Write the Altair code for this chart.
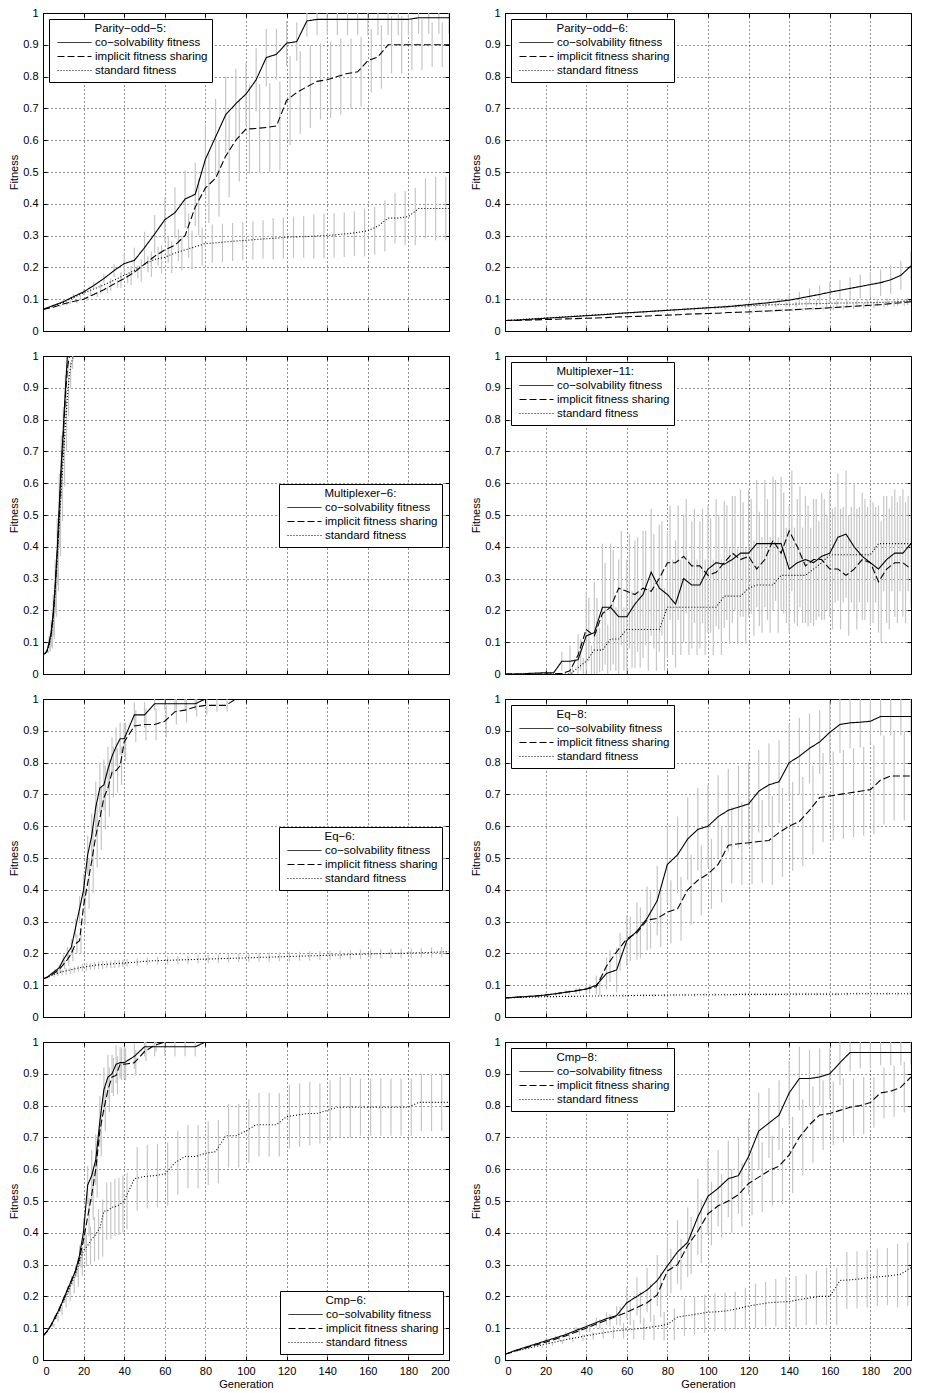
import altair as alt
import pandas as pd

# ---------------- shared categories / ticks ----------------
SERIES = ["co\u2212solvability fitness", "implicit fitness sharing", "standard fitness"]
X_TICKS = [0, 20, 40, 60, 80, 100, 120, 140, 160, 180, 200]
Y_TICKS = [0, 0.1, 0.2, 0.3, 0.4, 0.5, 0.6, 0.7, 0.8, 0.9, 1]

G5 = list(range(0, 201, 5))
G_FINE = list(range(0, 41, 2)) + list(range(45, 201, 5))

# ---------------- Parity-odd-5 ----------------
P1_TITLE = "Parity\u2212odd\u22125:"
P1_GENS = G5
P1_CO = [0.068, 0.080, 0.092, 0.108, 0.123, 0.143, 0.165, 0.190, 0.212, 0.222,
         0.262, 0.305, 0.350, 0.372, 0.415, 0.430, 0.540, 0.610, 0.680, 0.715,
         0.745, 0.790, 0.860, 0.870, 0.905, 0.910, 0.975, 0.980, 0.980, 0.980,
         0.980, 0.980, 0.980, 0.980, 0.980, 0.980, 0.980, 0.985, 0.985, 0.985, 0.985]
P1_CO_ERR = [0.003, 0.005, 0.006, 0.008, 0.010, 0.012, 0.015, 0.020, 0.030, 0.040,
             0.050, 0.060, 0.070, 0.080, 0.090, 0.100, 0.110, 0.120, 0.120, 0.110,
             0.100, 0.100, 0.090, 0.080, 0.070, 0.060, 0.050, 0.050, 0.050, 0.050,
             0.050, 0.050, 0.050, 0.050, 0.050, 0.050, 0.050, 0.050, 0.050, 0.050, 0.050]
P1_IFS = [0.068, 0.075, 0.085, 0.093, 0.100, 0.115, 0.130, 0.148, 0.165, 0.185,
          0.210, 0.235, 0.255, 0.270, 0.300, 0.390, 0.450, 0.480, 0.550, 0.600,
          0.635, 0.637, 0.640, 0.645, 0.725, 0.750, 0.768, 0.785, 0.790, 0.800,
          0.810, 0.815, 0.850, 0.862, 0.900, 0.900, 0.900, 0.900, 0.900, 0.900, 0.900]
P1_IFS_ERR = [0.002, 0.003, 0.004, 0.005, 0.006, 0.008, 0.010, 0.012, 0.015, 0.020,
              0.025, 0.030, 0.040, 0.050, 0.070, 0.090, 0.110, 0.120, 0.130, 0.130,
              0.140, 0.140, 0.140, 0.140, 0.140, 0.130, 0.130, 0.120, 0.120, 0.120,
              0.110, 0.110, 0.100, 0.100, 0.090, 0.090, 0.080, 0.080, 0.070, 0.070, 0.070]
P1_STD = [0.068, 0.078, 0.090, 0.105, 0.120, 0.132, 0.145, 0.160, 0.175, 0.190,
          0.210, 0.225, 0.232, 0.245, 0.255, 0.265, 0.275, 0.277, 0.280, 0.283,
          0.285, 0.288, 0.290, 0.292, 0.295, 0.296, 0.297, 0.299, 0.300, 0.303,
          0.306, 0.310, 0.315, 0.330, 0.355, 0.355, 0.360, 0.385, 0.385, 0.385, 0.385]
P1_STD_ERR = [0.002, 0.004, 0.006, 0.008, 0.010, 0.015, 0.020, 0.025, 0.030, 0.035,
              0.040, 0.045, 0.050, 0.055, 0.060, 0.060, 0.060, 0.060, 0.060, 0.060,
              0.060, 0.060, 0.065, 0.065, 0.065, 0.065, 0.070, 0.070, 0.070, 0.070,
              0.070, 0.075, 0.075, 0.080, 0.080, 0.085, 0.090, 0.095, 0.100, 0.100, 0.100]

# ---------------- Parity-odd-6 ----------------
P2_TITLE = "Parity\u2212odd\u22126:"
P2_GENS = G5
P2_CO = [0.033, 0.034, 0.036, 0.038, 0.040, 0.042, 0.044, 0.046, 0.048, 0.050,
         0.052, 0.055, 0.057, 0.059, 0.061, 0.063, 0.065, 0.067, 0.069, 0.071,
         0.073, 0.075, 0.077, 0.080, 0.083, 0.086, 0.089, 0.093, 0.097, 0.103,
         0.109, 0.115, 0.122, 0.128, 0.134, 0.140, 0.146, 0.152, 0.161, 0.175, 0.205]
P2_CO_ERR = [0.001, 0.001, 0.001, 0.001, 0.001, 0.001, 0.001, 0.001, 0.002, 0.002,
             0.002, 0.002, 0.002, 0.003, 0.003, 0.003, 0.003, 0.003, 0.004, 0.004,
             0.004, 0.004, 0.005, 0.005, 0.006, 0.007, 0.008, 0.010, 0.015, 0.020,
             0.025, 0.028, 0.030, 0.032, 0.035, 0.038, 0.040, 0.042, 0.045, 0.045, 0.045]
P2_IFS = [0.033, 0.033, 0.034, 0.035, 0.036, 0.037, 0.038, 0.039, 0.040, 0.041,
          0.042, 0.044, 0.045, 0.046, 0.047, 0.049, 0.050, 0.051, 0.053, 0.054,
          0.055, 0.056, 0.058, 0.059, 0.060, 0.062, 0.063, 0.065, 0.066, 0.068,
          0.070, 0.071, 0.073, 0.075, 0.077, 0.079, 0.081, 0.083, 0.086, 0.089, 0.092]
P2_IFS_ERR = [0.001, 0.001, 0.001, 0.001, 0.001, 0.001, 0.001, 0.001, 0.001, 0.001,
              0.002, 0.002, 0.002, 0.002, 0.002, 0.002, 0.002, 0.002, 0.002, 0.003,
              0.003, 0.003, 0.003, 0.003, 0.004, 0.004, 0.004, 0.005, 0.005, 0.005,
              0.006, 0.006, 0.007, 0.007, 0.008, 0.008, 0.009, 0.009, 0.010, 0.010, 0.010]
P2_STD = [0.033, 0.035, 0.037, 0.039, 0.041, 0.043, 0.045, 0.047, 0.049, 0.051,
          0.053, 0.055, 0.057, 0.059, 0.061, 0.063, 0.065, 0.067, 0.069, 0.071,
          0.073, 0.074, 0.076, 0.078, 0.079, 0.081, 0.082, 0.083, 0.084, 0.085,
          0.086, 0.086, 0.087, 0.088, 0.088, 0.089, 0.089, 0.090, 0.091, 0.093, 0.095]
P2_STD_ERR = [0.001, 0.001, 0.001, 0.001, 0.002, 0.002, 0.002, 0.002, 0.003, 0.003,
              0.003, 0.003, 0.004, 0.004, 0.004, 0.005, 0.005, 0.005, 0.006, 0.006,
              0.006, 0.007, 0.007, 0.007, 0.008, 0.008, 0.008, 0.009, 0.009, 0.009,
              0.010, 0.010, 0.010, 0.010, 0.011, 0.011, 0.011, 0.012, 0.012, 0.012, 0.012]

# ---------------- Multiplexer-6 ----------------
P3_TITLE = "Multiplexer\u22126:"
P3_GENS = list(range(0, 17))
P3_CO = [0.060, 0.065, 0.073, 0.100, 0.130, 0.190, 0.280, 0.390, 0.530, 0.660,
         0.770, 0.890, 1.000]
P3_CO_ERR = [0.0, 0.003, 0.005, 0.020, 0.040, 0.060, 0.080, 0.100, 0.100, 0.090,
             0.070, 0.050, 0.0]
P3_IFS = [0.060, 0.065, 0.072, 0.095, 0.125, 0.180, 0.270, 0.380, 0.500, 0.640,
          0.750, 0.870, 0.960, 1.000]
P3_IFS_ERR = [0.0, 0.003, 0.005, 0.020, 0.040, 0.060, 0.080, 0.100, 0.100, 0.090,
              0.080, 0.060, 0.030, 0.0]
P3_STD = [0.060, 0.065, 0.070, 0.090, 0.120, 0.170, 0.260, 0.360, 0.470, 0.580,
          0.680, 0.780, 0.870, 0.940, 0.980, 1.000]
P3_STD_ERR = [0.0, 0.003, 0.005, 0.020, 0.040, 0.060, 0.080, 0.100, 0.100, 0.100,
              0.090, 0.080, 0.060, 0.040, 0.020, 0.0]

# ---------------- Multiplexer-11 ----------------
P4_TITLE = "Multiplexer\u221211:"
P4_GENS = list(range(0, 201, 4))
P4_CO = [0.000, 0.000, 0.000, 0.002, 0.003, 0.004, 0.004, 0.040, 0.040, 0.045,
         0.120, 0.130, 0.210, 0.210, 0.180, 0.180, 0.220, 0.250, 0.320, 0.270,
         0.250, 0.220, 0.300, 0.280, 0.280, 0.330, 0.350, 0.345, 0.360, 0.380,
         0.380, 0.410, 0.410, 0.410, 0.410, 0.330, 0.350, 0.360, 0.350, 0.370,
         0.380, 0.430, 0.440, 0.400, 0.370, 0.350, 0.330, 0.360, 0.380, 0.380, 0.410]
P4_CO_ERR = [0.0, 0.0, 0.0, 0.002, 0.003, 0.004, 0.004, 0.030, 0.050, 0.080,
             0.140, 0.160, 0.200, 0.200, 0.180, 0.180, 0.200, 0.200, 0.200, 0.200,
             0.200, 0.200, 0.200, 0.200, 0.200, 0.200, 0.200, 0.200, 0.200, 0.200,
             0.200, 0.200, 0.200, 0.210, 0.210, 0.200, 0.200, 0.200, 0.200, 0.200,
             0.200, 0.200, 0.200, 0.200, 0.200, 0.200, 0.200, 0.200, 0.200, 0.200, 0.200]
P4_IFS = [0.000, 0.000, 0.000, 0.000, 0.000, 0.000, 0.000, 0.002, 0.010, 0.060,
          0.140, 0.120, 0.190, 0.210, 0.270, 0.260, 0.250, 0.270, 0.260, 0.300,
          0.350, 0.350, 0.370, 0.340, 0.340, 0.310, 0.320, 0.350, 0.380, 0.360,
          0.370, 0.330, 0.360, 0.420, 0.380, 0.450, 0.400, 0.340, 0.360, 0.360,
          0.330, 0.330, 0.310, 0.330, 0.360, 0.350, 0.290, 0.330, 0.350, 0.350, 0.330]
P4_IFS_ERR = [0.0, 0.0, 0.0, 0.0, 0.0, 0.0, 0.0, 0.002, 0.010, 0.050,
              0.100, 0.120, 0.160, 0.180, 0.180, 0.180, 0.180, 0.180, 0.180, 0.180,
              0.180, 0.180, 0.180, 0.180, 0.180, 0.180, 0.180, 0.180, 0.180, 0.180,
              0.180, 0.180, 0.190, 0.190, 0.190, 0.190, 0.190, 0.190, 0.190, 0.190,
              0.190, 0.190, 0.190, 0.190, 0.190, 0.190, 0.190, 0.190, 0.190, 0.190, 0.190]
P4_STD = [0.000, 0.000, 0.000, 0.000, 0.000, 0.000, 0.000, 0.000, 0.000, 0.020,
          0.040, 0.075, 0.075, 0.110, 0.110, 0.140, 0.140, 0.140, 0.140, 0.140,
          0.210, 0.210, 0.210, 0.210, 0.210, 0.210, 0.210, 0.245, 0.245, 0.245,
          0.270, 0.280, 0.280, 0.280, 0.310, 0.310, 0.310, 0.310, 0.330, 0.350,
          0.375, 0.375, 0.375, 0.375, 0.375, 0.375, 0.410, 0.410, 0.410, 0.410, 0.410]
P4_STD_ERR = [0.0, 0.0, 0.0, 0.0, 0.0, 0.0, 0.0, 0.0, 0.0, 0.030,
              0.050, 0.070, 0.080, 0.100, 0.100, 0.120, 0.120, 0.130, 0.130, 0.130,
              0.150, 0.150, 0.150, 0.150, 0.150, 0.150, 0.150, 0.150, 0.150, 0.150,
              0.150, 0.150, 0.150, 0.150, 0.150, 0.150, 0.150, 0.150, 0.150, 0.150,
              0.150, 0.150, 0.150, 0.150, 0.150, 0.150, 0.150, 0.150, 0.150, 0.150, 0.150]

# ---------------- Eq-6 ----------------
P5_TITLE = "Eq\u22126:"
P5_GENS = G_FINE
P5_CO = [0.120, 0.125, 0.135, 0.145, 0.155, 0.180, 0.200, 0.220, 0.280, 0.340,
         0.400, 0.510, 0.570, 0.660, 0.720, 0.730, 0.780, 0.820, 0.850, 0.875,
         0.875, 0.950, 0.950, 0.985, 0.985, 0.985, 0.985, 0.985, 1.000]
P5_CO_ERR = [0.0, 0.002, 0.004, 0.006, 0.010, 0.015, 0.020, 0.025, 0.030, 0.040,
             0.050, 0.060, 0.070, 0.080, 0.080, 0.080, 0.070, 0.060, 0.060, 0.050,
             0.050, 0.040, 0.040, 0.020, 0.020, 0.020, 0.020, 0.020, 0.0]
P5_IFS = [0.120, 0.124, 0.132, 0.140, 0.150, 0.165, 0.180, 0.200, 0.230, 0.240,
          0.350, 0.420, 0.490, 0.570, 0.625, 0.690, 0.720, 0.770, 0.775, 0.790,
          0.865, 0.915, 0.920, 0.920, 0.930, 0.960, 0.965, 0.975, 0.980, 0.980,
          0.980, 1.000]
P5_IFS_ERR = [0.0, 0.002, 0.004, 0.006, 0.010, 0.015, 0.020, 0.025, 0.030, 0.040,
              0.060, 0.080, 0.100, 0.100, 0.100, 0.100, 0.090, 0.080, 0.070, 0.060,
              0.060, 0.050, 0.050, 0.050, 0.050, 0.040, 0.040, 0.030, 0.030, 0.020,
              0.020, 0.0]
P5_STD = [0.120, 0.125, 0.130, 0.135, 0.140, 0.143, 0.146, 0.149, 0.152, 0.155,
          0.157, 0.159, 0.161, 0.163, 0.164, 0.165, 0.166, 0.167, 0.168, 0.169,
          0.170, 0.172, 0.175, 0.177, 0.178, 0.179, 0.180, 0.181, 0.182, 0.183,
          0.184, 0.185, 0.186, 0.187, 0.188, 0.189, 0.190, 0.191, 0.192, 0.193,
          0.194, 0.195, 0.196, 0.197, 0.198, 0.199, 0.200, 0.200, 0.201, 0.202,
          0.203, 0.204, 0.206]
P5_STD_ERR = [0.0, 0.002, 0.004, 0.006, 0.008, 0.010, 0.010, 0.010, 0.010, 0.012,
              0.012, 0.012, 0.012, 0.012, 0.012, 0.012, 0.012, 0.012, 0.012, 0.012,
              0.012, 0.012, 0.012, 0.012, 0.012, 0.013, 0.013, 0.013, 0.013, 0.013,
              0.013, 0.013, 0.013, 0.013, 0.014, 0.014, 0.014, 0.014, 0.014, 0.014,
              0.014, 0.014, 0.015, 0.015, 0.015, 0.015, 0.015, 0.015, 0.015, 0.015,
              0.016, 0.016, 0.016]

# ---------------- Eq-8 ----------------
P6_TITLE = "Eq\u22128:"
P6_GENS = G5
P6_CO = [0.060, 0.062, 0.064, 0.066, 0.069, 0.073, 0.078, 0.082, 0.088, 0.100,
         0.137, 0.148, 0.240, 0.270, 0.310, 0.366, 0.480, 0.510, 0.560, 0.590,
         0.600, 0.630, 0.650, 0.660, 0.670, 0.710, 0.730, 0.740, 0.800, 0.820,
         0.845, 0.865, 0.895, 0.920, 0.925, 0.927, 0.930, 0.945, 0.945, 0.945, 0.945]
P6_CO_ERR = [0.0, 0.002, 0.003, 0.004, 0.005, 0.006, 0.008, 0.010, 0.015, 0.030,
             0.050, 0.070, 0.080, 0.090, 0.100, 0.110, 0.120, 0.120, 0.130, 0.130,
             0.130, 0.130, 0.130, 0.130, 0.130, 0.130, 0.130, 0.130, 0.120, 0.120,
             0.110, 0.100, 0.100, 0.090, 0.080, 0.080, 0.070, 0.060, 0.060, 0.060, 0.060]
P6_IFS = [0.060, 0.062, 0.064, 0.066, 0.069, 0.073, 0.078, 0.083, 0.088, 0.095,
          0.160, 0.205, 0.246, 0.265, 0.305, 0.310, 0.330, 0.340, 0.400, 0.430,
          0.450, 0.480, 0.540, 0.545, 0.548, 0.552, 0.555, 0.580, 0.600, 0.615,
          0.650, 0.690, 0.695, 0.700, 0.705, 0.710, 0.715, 0.745, 0.758, 0.758, 0.758]
P6_IFS_ERR = [0.0, 0.002, 0.003, 0.004, 0.005, 0.006, 0.008, 0.010, 0.015, 0.030,
              0.050, 0.060, 0.070, 0.080, 0.090, 0.090, 0.100, 0.100, 0.110, 0.110,
              0.110, 0.120, 0.120, 0.130, 0.130, 0.130, 0.140, 0.140, 0.140, 0.140,
              0.140, 0.140, 0.140, 0.140, 0.140, 0.140, 0.140, 0.140, 0.140, 0.140, 0.140]
P6_STD = [0.060, 0.061, 0.062, 0.063, 0.064, 0.064, 0.065, 0.065, 0.066, 0.066,
          0.067, 0.067, 0.067, 0.068, 0.068, 0.068, 0.069, 0.069, 0.069, 0.070,
          0.070, 0.070, 0.070, 0.071, 0.071, 0.071, 0.071, 0.071, 0.072, 0.072,
          0.072, 0.072, 0.072, 0.072, 0.073, 0.073, 0.073, 0.073, 0.073, 0.073, 0.073]
P6_STD_ERR = [0.0, 0.001, 0.001, 0.002, 0.002, 0.002, 0.003, 0.003, 0.003, 0.003,
              0.004, 0.004, 0.004, 0.004, 0.004, 0.004, 0.004, 0.004, 0.005, 0.005,
              0.005, 0.005, 0.005, 0.005, 0.005, 0.005, 0.005, 0.005, 0.005, 0.005,
              0.005, 0.005, 0.005, 0.005, 0.005, 0.005, 0.005, 0.005, 0.005, 0.005, 0.005]

# ---------------- Cmp-6 ----------------
P7_TITLE = "Cmp\u22126:"
P7_GENS = G_FINE
P7_CO = [0.075, 0.090, 0.110, 0.135, 0.160, 0.190, 0.220, 0.250, 0.280, 0.330,
         0.405, 0.550, 0.580, 0.630, 0.750, 0.850, 0.890, 0.900, 0.930, 0.935,
         0.935, 0.955, 0.985, 0.985, 0.985, 0.985, 0.985, 0.985, 1.000]
P7_CO_ERR = [0.0, 0.002, 0.004, 0.006, 0.008, 0.010, 0.012, 0.015, 0.020, 0.030,
             0.040, 0.060, 0.080, 0.080, 0.080, 0.070, 0.070, 0.060, 0.060, 0.050,
             0.050, 0.040, 0.030, 0.030, 0.030, 0.030, 0.030, 0.030, 0.0]
P7_IFS = [0.075, 0.090, 0.110, 0.135, 0.160, 0.190, 0.220, 0.250, 0.280, 0.320,
          0.380, 0.450, 0.520, 0.600, 0.720, 0.790, 0.850, 0.890, 0.895, 0.930,
          0.930, 0.935, 0.970, 0.990, 1.000]
P7_IFS_ERR = [0.0, 0.002, 0.004, 0.006, 0.008, 0.010, 0.012, 0.015, 0.020, 0.030,
              0.040, 0.060, 0.080, 0.090, 0.080, 0.070, 0.070, 0.060, 0.060, 0.050,
              0.050, 0.040, 0.030, 0.020, 0.0]
P7_STD = [0.075, 0.090, 0.108, 0.130, 0.155, 0.185, 0.210, 0.240, 0.270, 0.310,
          0.345, 0.360, 0.380, 0.395, 0.415, 0.468, 0.470, 0.480, 0.483, 0.490,
          0.500, 0.570, 0.577, 0.580, 0.585, 0.620, 0.640, 0.640, 0.650, 0.655,
          0.705, 0.705, 0.720, 0.740, 0.740, 0.740, 0.765, 0.770, 0.775, 0.775,
          0.785, 0.795, 0.795, 0.795, 0.795, 0.795, 0.795, 0.795, 0.795, 0.810,
          0.810, 0.810, 0.810]
P7_STD_ERR = [0.0, 0.003, 0.006, 0.010, 0.015, 0.020, 0.025, 0.030, 0.040, 0.045,
              0.050, 0.060, 0.070, 0.080, 0.090, 0.090, 0.090, 0.090, 0.090, 0.090,
              0.090, 0.100, 0.100, 0.100, 0.100, 0.100, 0.100, 0.100, 0.100, 0.100,
              0.100, 0.100, 0.100, 0.100, 0.100, 0.100, 0.100, 0.100, 0.100, 0.095,
              0.095, 0.095, 0.095, 0.090, 0.090, 0.090, 0.090, 0.090, 0.090, 0.090,
              0.090, 0.090, 0.090]

# ---------------- Cmp-8 ----------------
P8_TITLE = "Cmp\u22128:"
P8_GENS = G5
P8_CO = [0.018, 0.030, 0.040, 0.050, 0.060, 0.070, 0.080, 0.093, 0.105, 0.118,
         0.130, 0.140, 0.180, 0.200, 0.220, 0.250, 0.296, 0.340, 0.370, 0.450,
         0.515, 0.540, 0.570, 0.580, 0.640, 0.720, 0.745, 0.770, 0.840, 0.885,
         0.885, 0.890, 0.900, 0.935, 0.967, 0.967, 0.967, 0.967, 0.967, 0.967, 0.967]
P8_CO_ERR = [0.001, 0.002, 0.003, 0.004, 0.005, 0.006, 0.008, 0.010, 0.012, 0.015,
             0.020, 0.030, 0.050, 0.060, 0.070, 0.080, 0.090, 0.100, 0.110, 0.120,
             0.120, 0.120, 0.120, 0.120, 0.120, 0.120, 0.110, 0.110, 0.100, 0.100,
             0.090, 0.090, 0.080, 0.070, 0.060, 0.050, 0.050, 0.040, 0.040, 0.040, 0.040]
P8_IFS = [0.018, 0.028, 0.038, 0.047, 0.056, 0.066, 0.076, 0.088, 0.100, 0.113,
          0.125, 0.138, 0.150, 0.165, 0.180, 0.205, 0.280, 0.300, 0.360, 0.405,
          0.460, 0.485, 0.500, 0.520, 0.555, 0.575, 0.595, 0.610, 0.645, 0.700,
          0.740, 0.770, 0.775, 0.785, 0.795, 0.800, 0.810, 0.840, 0.845, 0.858, 0.890]
P8_IFS_ERR = [0.001, 0.002, 0.003, 0.004, 0.005, 0.006, 0.008, 0.010, 0.012, 0.015,
              0.020, 0.030, 0.040, 0.050, 0.060, 0.070, 0.070, 0.080, 0.090, 0.100,
              0.100, 0.100, 0.100, 0.100, 0.100, 0.110, 0.110, 0.120, 0.120, 0.120,
              0.120, 0.110, 0.100, 0.100, 0.090, 0.090, 0.080, 0.080, 0.080, 0.080, 0.080]
P8_STD = [0.018, 0.027, 0.035, 0.042, 0.050, 0.057, 0.064, 0.070, 0.076, 0.082,
          0.087, 0.092, 0.095, 0.098, 0.102, 0.106, 0.112, 0.135, 0.140, 0.145,
          0.150, 0.152, 0.155, 0.162, 0.170, 0.175, 0.180, 0.182, 0.184, 0.190,
          0.195, 0.200, 0.200, 0.250, 0.252, 0.255, 0.260, 0.262, 0.265, 0.270, 0.290]
P8_STD_ERR = [0.001, 0.002, 0.003, 0.004, 0.005, 0.006, 0.008, 0.010, 0.012, 0.015,
              0.020, 0.025, 0.030, 0.035, 0.040, 0.045, 0.050, 0.060, 0.060, 0.060,
              0.060, 0.060, 0.060, 0.065, 0.070, 0.070, 0.075, 0.080, 0.080, 0.080,
              0.085, 0.090, 0.090, 0.090, 0.090, 0.090, 0.090, 0.090, 0.100, 0.100, 0.100]

# ---------------- layout / style ----------------
W, H = 406, 318
TICK = 4
DASHES = [[1, 0], [7, 3], [1, 2]]
# zero-width space first so the non-breaking indent is not trimmed away
TITLE_INDENT = "\u200b" + "\u00a0" * 13

PANELS = [
    dict(title=P1_TITLE, gens=P1_GENS, vals=[P1_CO, P1_IFS, P1_STD],
         errs=[P1_CO_ERR, P1_IFS_ERR, P1_STD_ERR], shift=1.7, legend="top-left"),
    dict(title=P2_TITLE, gens=P2_GENS, vals=[P2_CO, P2_IFS, P2_STD],
         errs=[P2_CO_ERR, P2_IFS_ERR, P2_STD_ERR], shift=1.7, legend="top-left"),
    dict(title=P3_TITLE, gens=P3_GENS, vals=[P3_CO, P3_IFS, P3_STD],
         errs=[P3_CO_ERR, P3_IFS_ERR, P3_STD_ERR], shift=0.3, legend="east"),
    dict(title=P4_TITLE, gens=P4_GENS, vals=[P4_CO, P4_IFS, P4_STD],
         errs=[P4_CO_ERR, P4_IFS_ERR, P4_STD_ERR], shift=1.3, legend="top-left"),
    dict(title=P5_TITLE, gens=P5_GENS, vals=[P5_CO, P5_IFS, P5_STD],
         errs=[P5_CO_ERR, P5_IFS_ERR, P5_STD_ERR], shift=0.7, legend="east"),
    dict(title=P6_TITLE, gens=P6_GENS, vals=[P6_CO, P6_IFS, P6_STD],
         errs=[P6_CO_ERR, P6_IFS_ERR, P6_STD_ERR], shift=1.7, legend="top-left"),
    dict(title=P7_TITLE, gens=P7_GENS, vals=[P7_CO, P7_IFS, P7_STD],
         errs=[P7_CO_ERR, P7_IFS_ERR, P7_STD_ERR], shift=0.7, legend="bottom-right"),
    dict(title=P8_TITLE, gens=P8_GENS, vals=[P8_CO, P8_IFS, P8_STD],
         errs=[P8_CO_ERR, P8_IFS_ERR, P8_STD_ERR], shift=1.7, legend="top-left"),
]


def tick_axis(orient, values):
    # an axis pulled inside the frame so its ticks point inward (MATLAB style)
    return alt.Axis(orient=orient, values=values, grid=False, labels=False, title=None,
                    ticks=True, tickSize=TICK, offset=-TICK, tickColor="black",
                    tickWidth=1, domain=False)


def build_panel(p, bottom):
    line_rows, err_rows = [], []
    for s, name in enumerate(SERIES):
        for g, v in zip(p["gens"], p["vals"][s]):
            line_rows.append({"gen": g, "fit": v, "series": name})
        for g, v, e in zip(p["gens"], p["vals"][s], p["errs"][s]):
            if e >= 0.004:
                err_rows.append({"gen": g + s * p["shift"],
                                 "lo": max(0.0, v - e), "hi": min(1.0, v + e)})
    lines_df = pd.DataFrame(line_rows)
    err_df = pd.DataFrame(err_rows)

    xscale = alt.Scale(domain=[0, 200], nice=False, zero=False)
    yscale = alt.Scale(domain=[0, 1], nice=False)
    xaxis = alt.Axis(orient="bottom", values=X_TICKS, grid=True, labels=bottom,
                     title="Generation" if bottom else None,
                     ticks=True, tickSize=TICK, offset=-TICK, tickColor="black",
                     labelPadding=5, titlePadding=2)
    yaxis = alt.Axis(orient="left", values=Y_TICKS, grid=True, format="~g",
                     title="Fitness", ticks=True, tickSize=TICK, offset=-TICK,
                     tickColor="black", labelPadding=5, titlePadding=3)

    if p["legend"] == "east":
        leg = dict(orient="none", legendX=W - 6 - 164, legendY=H / 2 - 31)
    else:
        leg = dict(orient=p["legend"], offset=6)

    err = alt.Chart(err_df).mark_rule(color="#c6c6c6", strokeWidth=1.2, clip=True).encode(
        x=alt.X("gen:Q", scale=xscale, axis=xaxis),
        y=alt.Y("lo:Q", scale=yscale, axis=yaxis),
        y2="hi:Q",
    )
    lines = alt.Chart(lines_df).mark_line(color="black", strokeWidth=1.1, clip=True).encode(
        x=alt.X("gen:Q", scale=xscale, axis=tick_axis("top", X_TICKS)),
        y=alt.Y("fit:Q", scale=yscale, axis=tick_axis("right", Y_TICKS)),
        strokeDash=alt.StrokeDash(
            "series:N", sort=SERIES,
            scale=alt.Scale(domain=SERIES, range=DASHES),
            legend=alt.Legend(title=TITLE_INDENT + p["title"], **leg),
        ),
    )
    return (
        alt.layer(err, lines)
        .resolve_axis(x="independent", y="independent")
        .properties(width=W, height=H)
    )


panels = [build_panel(p, i >= 6) for i, p in enumerate(PANELS)]

chart = (
    alt.concat(*panels, columns=2, spacing={"row": 25, "column": 56}, bounds="flush")
    .resolve_scale(strokeDash="independent")
    .resolve_legend(strokeDash="independent")
    .properties(padding={"top": -2, "left": 0, "right": 2, "bottom": 0})
    .configure(font="Liberation Sans")
    .configure_view(stroke="black", strokeWidth=1)
    .configure_axis(
        domain=False,
        gridColor="#000000", gridDash=[1, 3], gridOpacity=0.85, gridWidth=1,
        labelFontSize=11, labelColor="black",
        titleFontSize=11, titleFontWeight="normal", titleColor="black",
    )
    .configure_legend(
        strokeColor="black", fillColor="white", cornerRadius=0, padding=4,
        symbolType="stroke", symbolSize=34 * 34, symbolStrokeWidth=1,
        symbolStrokeColor="black", symbolOffset=4, labelOffset=3,
        clipHeight=14, rowPadding=0, titlePadding=1,
        labelFontSize=11.5, titleFontSize=11.5, titleFontWeight="normal",
        labelColor="black", titleColor="black", labelLimit=300,
    )
)

chart.save("out.html", embed_options={"renderer": "svg", "actions": False})
